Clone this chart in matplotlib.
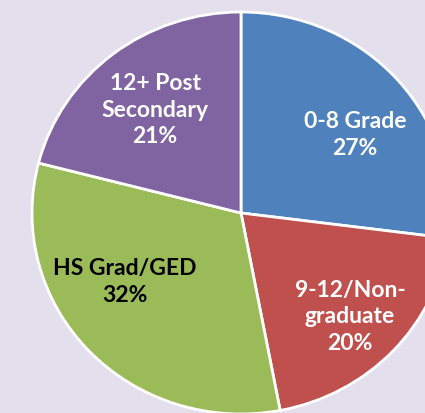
import matplotlib
matplotlib.use("Agg")
import matplotlib.pyplot as plt

categories = ["0-8 Grade", "9-12/Non-\ngraduate", "HS Grad/GED", "12+ Post\nSecondary"]
values = [27, 20, 32, 21]
colors = ["#4F81BD", "#C0504D", "#9BBB59", "#8064A2"]
text_colors = ["white", "white", "black", "white"]
label_pos = [(0.545, 0.393), (0.522, -0.512), (-0.555, -0.338), (-0.411, 0.517)]

bg = "#E3DFED"
fig = plt.figure(figsize=(4.25, 4.14), dpi=100, facecolor=bg)
ax = fig.add_axes([0, 0, 1, 1])
ax.set_facecolor(bg)

wedges, _ = ax.pie(values, colors=colors, startangle=90, counterclock=False,
                   radius=1.0, center=(0, 0),
                   wedgeprops=dict(edgecolor="white", linewidth=2))
ax.set_aspect("auto")
ax.set_xlim(-241 / 209, (425 - 241) / 209)
ax.set_ylim(-(414 - 214) / 201, 214 / 201)
ax.axis("off")

for cat, v, tc, (x, y) in zip(categories, values, text_colors, label_pos):
    ax.text(x, y, f"{cat}\n{v}%", ha="center", va="center", multialignment="center",
            color=tc, fontsize=16.5, fontweight="bold", family=["Lato", "DejaVu Sans"],
            linespacing=1.32)

fig.savefig("out.png", dpi=100, facecolor=bg)
